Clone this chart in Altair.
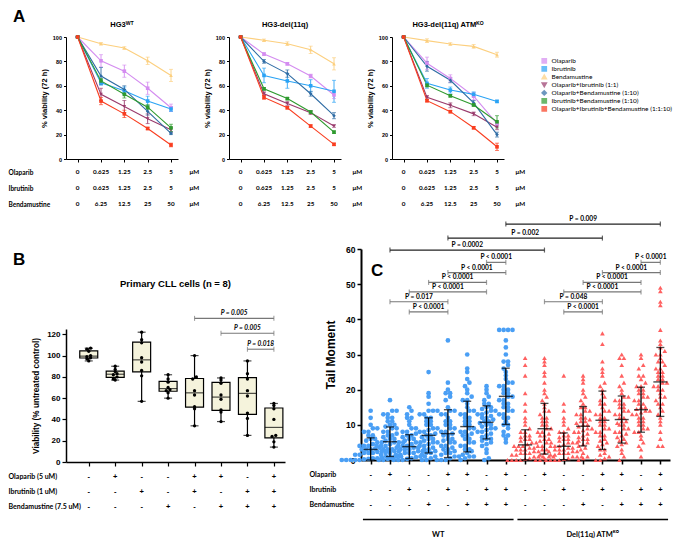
import altair as alt
import pandas as pd

FONT = "Liberation Sans"
TFONT = "Lato"

# ---------------- Panel A ----------------
SERIES = ["Olaparib", "Ibrutinib", "Bendamustine", "Olaparib+Ibrutinib (1:1)",
          "Olaparib+Bendamustine (1:10)", "Ibrutinib+Bendamustine (1:10)",
          "Olaparib+Ibrutinib+Bendamustine (1:1:10)"]
SERIES_COLORS = ["#d48cf0", "#2aa3f5", "#fccf7e", "#993a6c", "#2f6ca4", "#2e9a2e", "#f93d1f"]
SERIES_SHAPES = ["square", "square", "triangle-up", "triangle-down", "diamond", "square", "square"]
DRUG_ROWS = ["Olaparib", "Ibrutinib", "Bendamustine"]
OLAPARIB_UM = ["0", "0.625", "1.25", "2.5", "5", "μM"]
IBRUTINIB_UM = ["0", "0.625", "1.25", "2.5", "5", "μM"]
BENDAMUSTINE_UM = ["0", "6.25", "12.5", "25", "50", "μM"]
A_TITLES = ["HG3ᵂᵀ", "HG3-del(11q)", "HG3-del(11q) ATMᴷᴼ"]

WT_MEAN = [[100, 80.5, 72, 58, 42], [100, 62.5, 56, 47.5, 41], [100, 94.5, 91, 80.5, 68.5],
           [100, 53, 43, 33, 24], [100, 68, 57, 39, 21], [100, 64, 53, 42.5, 25.5],
           [100, 47.5, 37, 25, 11.5]]
WT_ERR = [[0, 5, 5, 5, 3], [0, 2, 3, 4, 2], [0, 1, 1, 3, 5], [0, 5, 5, 4, 2],
          [0, 7, 3, 3, 1], [0, 2, 3, 2, 3], [0, 3, 3, 1, 1.5]]
DEL_MEAN = [[100, 86, 78, 68, 52.5], [100, 68.5, 64, 60, 55.5], [100, 97.3, 94.5, 89.5, 78],
            [100, 53.5, 45.5, 38, 27], [100, 80, 70, 53.5, 35.5], [100, 57.5, 49.5, 38.5, 22],
            [100, 50.5, 42, 27, 12]]
DEL_ERR = [[0, 1, 1, 1.5, 3], [0, 6, 6, 5, 9], [0, 1, 1.5, 3, 5], [0, 1.5, 1.5, 1.5, 1],
           [0, 1.5, 3, 2, 2.5], [0, 1, 1, 1, 1], [0, 1.5, 1, 1, 1]]
KO_MEAN = [[100, 78.5, 66, 51.5, 29], [100, 62, 56.5, 53, 47.2], [100, 97, 94.3, 92.3, 85.5],
           [100, 50.5, 44, 37, 26], [100, 76, 64.5, 46, 20], [100, 60.5, 51.8, 44.3, 30.5],
           [100, 47.8, 38.8, 25.6, 10]]
KO_ERR = [[0, 5, 3, 3, 2], [0, 4, 2.5, 2, 1], [0, 1.5, 1, 1.5, 2], [0, 1.5, 2, 1.5, 2],
          [0, 4, 2, 2, 2], [0, 1.5, 1, 1, 5], [0, 1, 1, 1, 3]]

# ---------------- Panel B ----------------
B_ROWS = ["Olaparib (5 uM)", "Ibrutinib (1 uM)", "Bendamustine (7.5 uM)"]
B_OLAPARIB = ["-", "+", "-", "-", "+", "+", "-", "+"]
B_IBRUTINIB = ["-", "-", "+", "-", "+", "-", "+", "+"]
B_BENDAMUSTINE = ["-", "-", "-", "+", "-", "+", "+", "+"]
B_VALUES = [[95, 97, 98, 99, 100, 104, 106, 107],
            [77, 78, 80, 82, 83, 85, 87, 90],
            [57, 81, 86, 94, 98, 112, 115, 122],
            [60, 65, 67, 68, 70, 75, 78, 82],
            [34, 50, 52, 63, 67, 78, 80, 100],
            [38, 47, 49, 59, 63, 74, 77, 79],
            [25, 41, 46, 62, 67, 78, 83, 95],
            [14, 19, 24, 25, 40, 50, 53, 55]]
B_P_FROM = [4, 5, 6]
B_P_TO = [7, 7, 7]
B_P_Y = [135, 121, 106]
B_P_TEXT = ["P = 0.005", "P = 0.005", "P = 0.018"]

# ---------------- Panel C ----------------
C_ROWS = ["Olaparib", "Ibrutinib", "Bendamustine"]
C_OLAPARIB = B_OLAPARIB + B_OLAPARIB
C_IBRUTINIB = B_IBRUTINIB + B_IBRUTINIB
C_BENDAMUSTINE = B_BENDAMUSTINE + B_BENDAMUSTINE
GENOTYPES = ["WT", "Del(11q) ATMᴷᴼ"]
GENO_FIRST = [0, 8]
GENO_LAST = [7, 15]
C_MEAN = [3.0, 5.2, 3.8, 7.0, 7.5, 9.5, 10.7, 18.1, 4.3, 8.9, 3.9, 9.6, 11.3, 11.5, 14.3, 22.2]
C_SD = [3.3, 4.2, 3.4, 5.0, 6.8, 7.2, 4.7, 8.0, 4.3, 7.2, 3.8, 5.6, 8.3, 6.7, 6.4, 9.8]
C_POINTS = [
    [0, 0, 0, 0, 0, 0.2, 0.3, 0.5, 0.5, 0.8, 1, 1, 1, 1.2, 1.5, 1.5, 2, 2, 2, 2.3, 2.5, 2.5, 3, 3, 3,
     3.2, 3.5, 4, 4, 4, 4.5, 5, 5, 5.5, 6, 6, 7, 7, 8, 8, 9, 9, 10, 12, 14],
    [0, 0, 0.3, 0.5, 1, 1, 1.5, 2, 2, 2.5, 2.5, 3, 3, 3, 3.5, 4, 4, 4, 4.5, 5, 5, 5, 5.5, 6, 6, 6.5,
     7, 7, 7.5, 8, 8, 9, 9, 9.5, 10, 10, 11, 11, 12, 12, 13, 13, 14, 14, 17],
    [0, 0, 0, 0.3, 0.5, 0.8, 1, 1, 1.5, 1.5, 2, 2, 2, 2.5, 2.5, 3, 3, 3, 3.5, 3.5, 4, 4, 4, 4.5, 5, 5,
     5.5, 6, 6, 6.5, 7, 7, 7.5, 8, 8, 9, 9, 10, 11, 12, 12, 13, 14, 15],
    [0, 0, 0.5, 1, 1.5, 2, 2, 2.5, 3, 3, 3.5, 4, 4, 4.5, 5, 5, 5.5, 6, 6, 6.5, 7, 7, 7.5, 8, 8, 8.5,
     9, 9, 10, 10, 11, 11, 12, 12, 13, 13, 14, 14, 14, 16, 18, 19, 25],
    [0, 0, 0, 0.5, 1, 1, 1.5, 2, 2, 2.5, 3, 3, 3.5, 4, 4, 5, 5, 5.5, 6, 6, 7, 7, 7.5, 8, 8, 9, 9, 10,
     10, 11, 11, 12, 13, 13, 14, 14, 15, 17, 18, 19, 19, 20, 22, 34],
    [0, 0.5, 1, 1, 1.5, 2, 2.5, 3, 3, 4, 4, 5, 5, 6, 6, 7, 7, 7.5, 8, 8, 9, 9, 10, 10, 11, 11, 12, 12,
     13, 13, 14, 14, 15, 16, 17, 17, 18, 19, 20, 21, 22, 23, 25, 26, 30],
    [0, 0.5, 2, 3, 4, 4.5, 5, 5.5, 6, 6, 6.5, 7, 7.5, 8, 8, 8.5, 9, 9, 9.5, 10, 10, 10.5, 11, 11, 11.5,
     12, 12, 12.5, 13, 13, 13.5, 14, 14, 14.5, 15, 15, 16, 16, 17, 18, 19, 20, 21],
    [5, 6, 7, 7, 8, 9, 10, 10, 11, 12, 12, 13, 13, 14, 14, 15, 15, 16, 16, 17, 17, 18, 18, 19, 19, 20,
     20, 21, 21, 22, 22, 23, 24, 25, 26, 27, 28, 28, 30, 32, 34, 37, 37, 37, 37],
    [0, 0, 0, 0, 0.3, 0.5, 1, 1, 1, 1.5, 1.5, 2, 2, 2, 2.5, 2.5, 3, 3, 3, 3.5, 3.5, 4, 4, 4, 4.5, 5, 5,
     5.5, 6, 6, 6.5, 7, 7, 8, 8, 9, 10, 11, 12, 14, 16, 19, 24, 27, 29],
    [0, 0, 0.5, 1, 1, 1.5, 2, 2.5, 3, 3, 4, 4, 5, 5, 5.5, 6, 6, 7, 7, 7.5, 8, 8, 9, 9, 10, 10, 11, 11,
     12, 12, 13, 14, 14, 15, 16, 17, 18, 19, 20, 22, 24, 25, 27, 28, 29],
    [0, 0, 0, 0, 0.3, 0.5, 1, 1, 1, 1.5, 1.5, 2, 2, 2, 2.5, 2.5, 3, 3, 3, 3.5, 3.5, 4, 4, 4, 4.5, 5, 5,
     5, 5.5, 6, 6, 6.5, 7, 7, 8, 8, 9, 10, 11, 12, 14, 16, 24],
    [0, 0.5, 1, 2, 3, 3.5, 4, 4.5, 5, 5.5, 6, 6, 6.5, 7, 7.5, 8, 8, 8.5, 9, 9, 9.5, 10, 10, 10.5, 11,
     11, 11.5, 12, 12, 13, 13, 14, 14, 15, 15, 16, 17, 18, 19, 20, 22, 23, 24],
    [0, 0, 0.5, 1, 1.5, 2, 3, 3, 4, 4.5, 5, 5.5, 6, 7, 7, 8, 8, 9, 9, 10, 10, 11, 11, 12, 12, 13, 13,
     14, 14, 15, 16, 16, 17, 18, 19, 20, 21, 22, 24, 25, 26, 28, 33, 36],
    [0, 1, 2, 3, 4, 4.5, 5, 5.5, 6, 6.5, 7, 7.5, 8, 8, 9, 9, 10, 10, 10.5, 11, 11, 12, 12, 13, 13, 14,
     14, 15, 15, 16, 16, 17, 17, 18, 18, 19, 20, 21, 22, 24, 27, 29, 29, 30],
    [1, 3, 4, 5, 6, 7, 8, 8, 9, 9, 10, 10, 11, 11, 12, 12, 13, 13, 13.5, 14, 14, 14.5, 15, 15, 16, 16,
     17, 17, 18, 18, 19, 19, 20, 20, 21, 21, 22, 23, 24, 24, 26, 27, 29, 30],
    [4, 4, 6, 8, 10, 11, 12, 13, 14, 15, 16, 16, 17, 18, 18, 19, 20, 20, 21, 21, 22, 22, 23, 23, 24, 24,
     25, 25, 26, 26, 27, 28, 28, 29, 30, 30, 31, 32, 33, 34, 37, 44, 45, 48, 49],
]
C_P_FROM = [1, 2, 2, 3, 4, 6, 1, 4, 7, 9, 10, 10, 11, 12, 14]
C_P_TO = [4, 4, 6, 6, 7, 7, 9, 12, 15, 12, 12, 14, 14, 15, 15]
C_P_Y = [45, 42.1, 47.8, 50.5, 53.3, 56.2, 59.7, 63.1, 67.1, 45, 42.1, 47.8, 50.5, 53.3, 56.2]
C_P_TEXT = ["P = 0.017", "P < 0.0001", "P < 0.0001", "P < 0.0001", "P < 0.0001", "P < 0.0001",
            "P = 0.0002", "P = 0.002", "P = 0.009", "P = 0.048", "P < 0.0001", "P < 0.0001",
            "P < 0.0001", "P < 0.0001", "P < 0.0001"]

# ================= build panel A =================
A_W, A_H = 112, 122
ax_scale = alt.Scale(domain=[-0.5, 4.3], nice=False, zero=False)
color_scale = alt.Scale(domain=SERIES, range=SERIES_COLORS)
shape_scale = alt.Scale(domain=SERIES, range=SERIES_SHAPES)
leg = alt.Legend(title=None, orient="none", legendX=475, legendY=20, labelFont=TFONT, labelFontSize=6.5,
                 labelColor="black", symbolSize=18, rowPadding=0, labelOffset=4, clipHeight=7.8)


def a_frame(means, errs):
    rows = []
    for s, ms, es in zip(SERIES, means, errs):
        for i, (m, e) in enumerate(zip(ms, es)):
            rows.append({"series": s, "idx": i, "v": m, "lo": m - e, "hi": m + e})
    return pd.DataFrame(rows)


def a_plot(df, title):
    xax = alt.Axis(values=[0, 1, 2, 3, 4], labels=False, title=None, tickSize=3, grid=False,
                   domainColor="black", tickColor="black", domainWidth=1, tickWidth=1)
    yax = alt.Axis(values=[0, 20, 40, 60, 80, 100], title="% viability (72 h)", grid=False,
                   labelFontSize=5.5, labelFont=FONT, labelFontWeight="bold", tickSize=2.5,
                   titleFontSize=7.5, titleFont=FONT, titleFontWeight="bold", titlePadding=4,
                   domainColor="black", tickColor="black", labelColor="black", titleColor="black")
    x = alt.X("idx:Q", scale=ax_scale, axis=xax)
    ysc = alt.Scale(domain=[0, 100], nice=False)
    col = alt.Color("series:N", scale=color_scale, legend=leg)
    shp = alt.Shape("series:N", scale=shape_scale, legend=leg)
    base = alt.Chart(df)
    line = base.mark_line(strokeWidth=1.1).encode(x=x, y=alt.Y("v:Q", scale=ysc, axis=yax), color=col)
    err = base.mark_rule(strokeWidth=0.9).encode(x=x, y=alt.Y("lo:Q", scale=ysc, axis=yax), y2="hi:Q", color=col)
    cap1 = base.mark_tick(orient="horizontal", size=4, thickness=0.9).encode(
        x=x, y=alt.Y("lo:Q", scale=ysc, axis=yax), color=col)
    cap2 = base.mark_tick(orient="horizontal", size=4, thickness=0.9).encode(
        x=x, y=alt.Y("hi:Q", scale=ysc, axis=yax), color=col)
    pts = base.mark_point(filled=True, size=13, opacity=1).encode(
        x=x, y=alt.Y("v:Q", scale=ysc, axis=yax), color=col, shape=shp)
    return alt.layer(err, cap1, cap2, line, pts).properties(
        width=A_W, height=A_H,
        title=alt.Title(title, font=FONT, fontSize=7.5, fontWeight="bold", color="black", offset=6,
                        frame="group"))


def a_table(show_labels):
    rows = []
    for name, vals in zip(DRUG_ROWS, [OLAPARIB_UM, IBRUTINIB_UM, BENDAMUSTINE_UM]):
        for i, t in enumerate(vals):
            rows.append({"drug": name, "idx": i, "t": t})
    df = pd.DataFrame(rows)
    if show_labels:
        yax = alt.Axis(title=None, domain=False, ticks=False, labelAlign="left", labelPadding=58,
                       labelFont=TFONT, labelFontSize=6.5, labelFontWeight="bold", labelColor="black")
    else:
        yax = None
    return alt.Chart(df).mark_text(font=TFONT, fontSize=6.3, fontWeight="bold", color="black").encode(
        x=alt.X("idx:Q", scale=ax_scale, axis=None),
        y=alt.Y("drug:N", sort=DRUG_ROWS, axis=yax),
        text="t:N",
    ).properties(width=A_W, height=48)


a_cols = []
for k, (means, errs) in enumerate([(WT_MEAN, WT_ERR), (DEL_MEAN, DEL_ERR), (KO_MEAN, KO_ERR)]):
    p = a_plot(a_frame(means, errs), A_TITLES[k])
    a_cols.append(alt.vconcat(p, a_table(k == 0), spacing=1))
top = alt.hconcat(*a_cols, spacing=3).properties(
    title=alt.Title("A", anchor="start", font=FONT, fontSize=17, fontWeight="bold", color="black",
                    offset=-5, dx=5))

# ================= build panel B =================
B_W, B_H = 219, 133
bx_scale = alt.Scale(domain=[-0.86, 7.42], nice=False, zero=False)
by_scale = alt.Scale(domain=[0, 125], nice=False)
bxax = alt.Axis(values=list(range(8)), labels=False, title=None, tickSize=4, grid=False,
                domainColor="black", tickColor="black", domainWidth=1.5, tickWidth=1.2)
byax = alt.Axis(values=[0, 20, 40, 60, 80, 100, 120], title="Viability (% untreated control)", grid=False,
                labelFont=FONT, labelFontSize=8, labelFontWeight="bold", labelColor="black",
                titleFont=FONT, titleFontSize=8.2, titleFontWeight="bold", titleColor="black",
                tickSize=4, domainColor="black", tickColor="black", domainWidth=1.5, tickWidth=1.2,
                titlePadding=6)
dfb = pd.DataFrame([{"idx": i, "v": v} for i, vals in enumerate(B_VALUES) for v in vals])
bX = alt.X("idx:Q", scale=bx_scale, axis=bxax)
stats = alt.Chart(dfb).transform_aggregate(
    q1="q1(v)", q3="q3(v)", med="median(v)", lo="min(v)", hi="max(v)", groupby=["idx"]
).transform_calculate(xa="datum.idx - 0.34", xb="datum.idx + 0.34")
b_whisk = stats.mark_rule(color="black", strokeWidth=1.2).encode(
    x=bX, y=alt.Y("lo:Q", scale=by_scale, axis=byax), y2="hi:Q")
b_box = stats.mark_rect(fill="#f5f3dc", stroke="black", strokeWidth=1.2).encode(
    x=alt.X("xa:Q", scale=bx_scale, axis=bxax), x2="xb:Q",
    y=alt.Y("q1:Q", scale=by_scale, axis=byax), y2="q3:Q")
b_med = stats.mark_tick(orient="horizontal", color="black", size=18, thickness=1.2).encode(
    x=bX, y=alt.Y("med:Q", scale=by_scale, axis=byax))
b_cap1 = stats.mark_tick(orient="horizontal", color="black", size=8, thickness=1.2).encode(
    x=bX, y=alt.Y("lo:Q", scale=by_scale, axis=byax))
b_cap2 = stats.mark_tick(orient="horizontal", color="black", size=8, thickness=1.2).encode(
    x=bX, y=alt.Y("hi:Q", scale=by_scale, axis=byax))
b_dots = alt.Chart(dfb).transform_calculate(b="floor(datum.v / 3)").transform_window(
    rn="row_number()", groupby=["idx", "b"]).transform_joinaggregate(
    n="count()", groupby=["idx", "b"]).transform_calculate(
    xj="datum.idx + (datum.rn - 1 - (datum.n - 1) / 2) * 0.14").mark_circle(
    size=11, color="black", opacity=1).encode(
    x=alt.X("xj:Q", scale=bx_scale, axis=bxax), y=alt.Y("v:Q", scale=by_scale, axis=byax))
dfbp = pd.DataFrame({"a": B_P_FROM, "b": B_P_TO, "y": B_P_Y, "t": B_P_TEXT})
bp = alt.Chart(dfbp).transform_calculate(m="(datum.a + datum.b) / 2")
b_br = bp.mark_rule(color="#777777", strokeWidth=1.1).encode(
    x=alt.X("a:Q", scale=bx_scale, axis=bxax), x2="b:Q", y=alt.Y("y:Q", scale=by_scale, axis=byax))
b_brc1 = bp.mark_tick(orient="vertical", color="#777777", size=5, thickness=1.1).encode(
    x=alt.X("a:Q", scale=bx_scale, axis=bxax), y=alt.Y("y:Q", scale=by_scale, axis=byax))
b_brc2 = bp.mark_tick(orient="vertical", color="#777777", size=5, thickness=1.1).encode(
    x=alt.X("b:Q", scale=bx_scale, axis=bxax), y=alt.Y("y:Q", scale=by_scale, axis=byax))
b_brt = bp.mark_text(font=TFONT, fontSize=6.5, fontWeight="bold", fontStyle="italic", color="black", dy=-5).encode(
    x=alt.X("m:Q", scale=bx_scale, axis=bxax), y=alt.Y("y:Q", scale=by_scale, axis=byax), text="t:N")
b_plot = alt.layer(b_whisk, b_box, b_med, b_cap1, b_cap2, b_dots, b_br, b_brc1, b_brc2, b_brt).properties(
    width=B_W, height=B_H,
    title=alt.Title("Primary CLL cells (n = 8)", font=FONT, fontSize=9.5, fontWeight="bold", color="black",
                    offset=22, frame="group"))

rows = []
for name, vals in zip(B_ROWS, [B_OLAPARIB, B_IBRUTINIB, B_BENDAMUSTINE]):
    for i, t in enumerate(vals):
        rows.append({"drug": name, "idx": i, "t": t})
b_table = alt.Chart(pd.DataFrame(rows)).mark_text(font=FONT, fontSize=7.5, fontWeight="bold", color="black").encode(
    x=alt.X("idx:Q", scale=bx_scale, axis=None),
    y=alt.Y("drug:N", sort=B_ROWS, axis=alt.Axis(title=None, domain=False, ticks=False, labelAlign="left",
                                                 labelPadding=58, labelFont=TFONT, labelFontSize=7,
                                                 labelFontWeight="bold", labelColor="black")),
    text="t:N").properties(width=B_W, height=45)

b_top = alt.Chart(pd.DataFrame({"t": ["B"]})).mark_text(
    font=FONT, fontSize=17, fontWeight="bold", color="black", align="left").encode(
    text="t:N", x=alt.value(-53), y=alt.value(11)).properties(width=B_W, height=27)

b_col = alt.vconcat(b_top, b_plot, b_table, spacing=2)

# ================= build panel C =================
C_W, C_H = 309, 211
cx_scale = alt.Scale(domain=[-0.5, 15.5], nice=False, zero=False)
cy_scale = alt.Scale(domain=[0, 60], nice=False)
cxax = alt.Axis(values=list(range(16)), labels=False, title=None, tickSize=4, grid=False,
                domainColor="black", tickColor="black", domainWidth=2, tickWidth=1.5)
cyax = alt.Axis(values=[0, 10, 20, 30, 40, 50, 60], title="Tail Moment", grid=False,
                labelFont=FONT, labelFontSize=8.5, labelFontWeight="bold", labelColor="black",
                titleFont=FONT, titleFontSize=12, titleFontWeight="bold", titleColor="black",
                tickSize=4, domainColor="black", tickColor="black", domainWidth=2, tickWidth=1.5,
                titlePadding=8)
dfc = pd.DataFrame([{"g": g, "v": v} for g, vals in enumerate(C_POINTS) for v in vals])
cbase = alt.Chart(dfc).transform_calculate(b="floor(datum.v / 1.3)").transform_window(
    rn="row_number()", groupby=["g", "b"]).transform_joinaggregate(
    n="count()", groupby=["g", "b"]).transform_calculate(
    xj="datum.g + (datum.rn - 1 - (datum.n - 1) / 2) * 0.23")
cXj = alt.X("xj:Q", scale=cx_scale, axis=cxax)
cYv = alt.Y("v:Q", scale=cy_scale, axis=cyax)
c_wt = cbase.transform_filter("datum.g < 8").mark_circle(size=22, color="#4a9ff5", opacity=1).encode(x=cXj, y=cYv)
c_del = cbase.transform_filter("datum.g >= 8").mark_point(
    shape="triangle-up", filled=True, size=22, color="#ff5757", opacity=0.95).encode(x=cXj, y=cYv)
dfcs = pd.DataFrame({"g": list(range(16)), "m": C_MEAN, "sd": C_SD})
cs = alt.Chart(dfcs).transform_calculate(lo="max(0, datum.m - datum.sd)", hi="datum.m + datum.sd")
cX = alt.X("g:Q", scale=cx_scale, axis=cxax)
c_sd = cs.mark_rule(color="black", strokeWidth=1.3).encode(x=cX, y=alt.Y("lo:Q", scale=cy_scale, axis=cyax), y2="hi:Q")
c_mean = cs.mark_tick(orient="horizontal", color="black", size=14, thickness=1.4).encode(
    x=cX, y=alt.Y("m:Q", scale=cy_scale, axis=cyax))
c_cap1 = cs.mark_tick(orient="horizontal", color="black", size=8, thickness=1.3).encode(
    x=cX, y=alt.Y("lo:Q", scale=cy_scale, axis=cyax))
c_cap2 = cs.mark_tick(orient="horizontal", color="black", size=8, thickness=1.3).encode(
    x=cX, y=alt.Y("hi:Q", scale=cy_scale, axis=cyax))
dfcp = pd.DataFrame({"a": C_P_FROM, "b": C_P_TO, "y": C_P_Y, "t": C_P_TEXT})
cp = alt.Chart(dfcp).transform_calculate(m="(datum.a + datum.b) / 2", long="datum.b - datum.a >= 8")
br_color = alt.condition("datum.long", alt.value("#222222"), alt.value("#777777"))
cA = alt.X("a:Q", scale=cx_scale, axis=cxax)
cB = alt.X("b:Q", scale=cx_scale, axis=cxax)
cYp = alt.Y("y:Q", scale=cy_scale, axis=cyax)
c_br = cp.mark_rule(strokeWidth=1.2).encode(x=cA, x2="b:Q", y=cYp, color=br_color)
c_brc1 = cp.mark_tick(orient="vertical", size=5, thickness=1.2).encode(x=cA, y=cYp, color=br_color)
c_brc2 = cp.mark_tick(orient="vertical", size=5, thickness=1.2).encode(x=cB, y=cYp, color=br_color)
c_brt = cp.mark_text(font=TFONT, fontSize=6.6, fontWeight="bold", color="black", dy=-5).encode(
    x=alt.X("m:Q", scale=cx_scale, axis=cxax), y=cYp, text="t:N")
c_letter = alt.Chart(pd.DataFrame({"t": ["C"]})).mark_text(
    font=FONT, fontSize=17, fontWeight="bold", color="black", align="left").encode(
    text="t:N", x=alt.value(10), y=alt.value(22))
c_plot = alt.layer(c_wt, c_del, c_sd, c_mean, c_cap1, c_cap2, c_br, c_brc1, c_brc2, c_brt, c_letter).properties(
    width=C_W, height=C_H)

C_TABLE_ROWS = C_ROWS + [" ", "  "]
rows = []
for name, vals in zip(C_ROWS, [C_OLAPARIB, C_IBRUTINIB, C_BENDAMUSTINE]):
    for i, t in enumerate(vals):
        rows.append({"row": name, "idx": i, "t": t})
cty = alt.Y("row:N", sort=C_TABLE_ROWS, scale=alt.Scale(domain=C_TABLE_ROWS),
            axis=alt.Axis(title=None, domain=False, ticks=False, labelAlign="left", labelPadding=52,
                          labelFont=TFONT, labelFontSize=7, labelFontWeight="bold", labelColor="black"))
c_tab_txt = alt.Chart(pd.DataFrame(rows)).mark_text(font=FONT, fontSize=7.5, fontWeight="bold", color="black").encode(
    x=alt.X("idx:Q", scale=cx_scale, axis=None), y=cty, text="t:N")
dfg = pd.DataFrame({"name": GENOTYPES, "a": [f - 0.4 for f in GENO_FIRST], "b": [l + 0.4 for l in GENO_LAST],
                    "m": [(f + l) / 2 for f, l in zip(GENO_FIRST, GENO_LAST)],
                    "lrow": [" ", " "], "trow": ["  ", "  "]})
c_gline = alt.Chart(dfg).mark_rule(color="black", strokeWidth=1.3).encode(
    x=alt.X("a:Q", scale=cx_scale, axis=None), x2="b:Q", y=alt.Y("lrow:N", sort=C_TABLE_ROWS,
                                                                   scale=alt.Scale(domain=C_TABLE_ROWS)))
c_gtext = alt.Chart(dfg).mark_text(font=TFONT, fontSize=7.5, fontWeight="bold", color="black").encode(
    x=alt.X("m:Q", scale=cx_scale, axis=None), y=alt.Y("trow:N", sort=C_TABLE_ROWS,
                                                       scale=alt.Scale(domain=C_TABLE_ROWS)), text="name:N")
c_table = alt.layer(c_tab_txt, c_gline, c_gtext).properties(width=C_W, height=75)

c_col = alt.vconcat(c_plot, c_table, spacing=2)

bottom = alt.hconcat(b_col, c_col, spacing=24)

chart = alt.vconcat(top, bottom, spacing=4).properties(padding=0).configure_view(stroke=None)
chart.save("out.html", embed_options={"renderer": "svg", "actions": False})
